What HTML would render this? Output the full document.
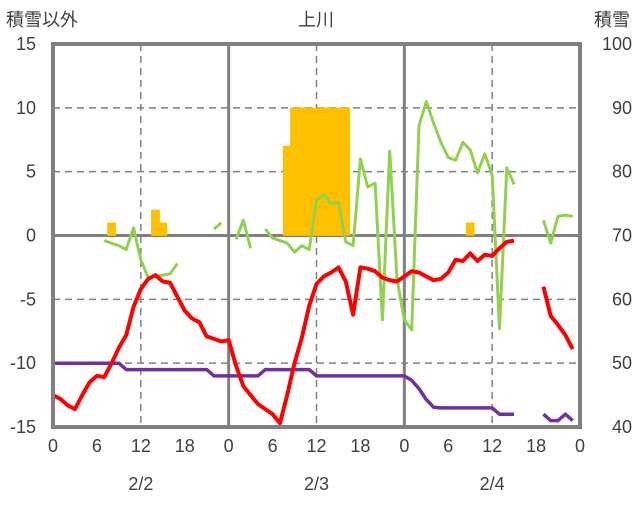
<!DOCTYPE html>
<html><head><meta charset="utf-8"><style>
html,body{margin:0;padding:0;background:#fff;}
svg text{font-family:"Liberation Sans","Noto Sans CJK JP",sans-serif;fill:#404040;font-size:18px;}
</style></head><body>
<svg id="chart" width="636" height="501" viewBox="0 0 636 501">
<g id="grid"></g>
<g id="bars"></g>
<g id="lines"></g>
<rect x="53" y="44" width="527" height="383" fill="none" stroke="#808080" stroke-width="4"/>
<g id="labels"></g>
<text x="316" y="26" text-anchor="middle">上川</text>
<text x="6" y="26">積雪以外</text>
<text x="630" y="26" text-anchor="end">積雪</text>
</svg>
<script>
const hourTicks=["0","6","12","18","0","6","12","18","0","6","12","18","0"];
const dateLabels=["2/2","2/3","2/4"];
const leftTicks=[15,10,5,0,-5,-10,-15];
const rightTicks=[100,90,80,70,60,50,40];
const N=null;
const temperature=[-12.5,-12.8,-13.3,-13.6,-12.5,-11.5,-11.0,-11.1,-10,-8.8,-7.8,-5.6,-4.2,-3.4,-3.1,-3.6,-3.7,-4.8,-5.9,-6.5,-6.8,-7.9,-8.1,-8.3,
-8.2,-10.2,-11.8,-12.5,-13.2,-13.6,-14.0,-14.7,-12.5,-10,-8,-5.5,-3.8,-3.2,-2.9,-2.5,-3.6,-6.2,-2.5,-2.6,-2.8,-3.3,-3.5,-3.6,
-3.2,-2.8,-2.9,-3.2,-3.5,-3.4,-2.9,-1.9,-2.0,-1.4,-2.0,-1.5,-1.6,-1.0,-0.5,-0.4,N,N,N,-4.0,-6.3,-7.0,-7.8,-8.9];
const wind=[N,N,N,N,N,N,N,-0.4,-0.6,-0.8,-1.1,0.6,-1.9,-3.3,-3.2,-3.1,-3.0,-2.2,N,N,N,N,0.5,1.0,
N,-0.3,1.2,-1.0,N,0.5,-0.2,-0.4,-0.6,-1.3,-0.8,-1.1,2.8,3.2,2.5,2.6,-0.5,-0.8,6.0,3.8,4.1,-6.6,6.6,-3.4,
-6.6,-7.4,8.6,10.5,8.8,7.3,6.1,5.9,7.3,6.7,4.9,6.4,4.7,-7.3,5.3,4.0,N,N,N,1.2,-0.6,1.5,1.6,1.5];
const snowDepth=[50,50,50,50,50,50,50,50,50,50,49,49,49,49,49,49,49,49,49,49,49,49,48,48,
48,48,48,48,48,49,49,49,49,49,49,49,48,48,48,48,48,48,48,48,48,48,48,48,
48,47.3,46,44.3,43.1,43,43,43,43,43,43,43,43,42,42,42,N,N,N,42,41,41,42,41];
const snowfall={8:1,14:2,15:1,32:7,33:10,34:10,35:10,36:10,37:10,38:10,39:10,40:10,57:1};

const L=53,R=580,T=44,B=427,NS="http://www.w3.org/2000/svg";
const xs=h=>L+(R-L)*h/72;
const yl=v=>T+(15-v)*(B-T)/30;
const yr=v=>T+(100-v)*(B-T)/60;
function mk(tag,attrs,parent){const e=document.createElementNS(NS,tag);for(const k in attrs)e.setAttribute(k,attrs[k]);parent.appendChild(e);return e;}
const grid=document.getElementById('grid'),bars=document.getElementById('bars'),lines=document.getElementById('lines'),labels=document.getElementById('labels');
leftTicks.forEach((v,i)=>{
  if(v!==15&&v!==-15){const g=mk('line',{x1:L,x2:R,y1:yl(v),y2:yl(v),stroke:'#808080','stroke-width':v===0?3:1.5,'stroke-dasharray':v===0?'none':'7,5'},grid);
  
  }
  const t=mk('text',{x:36,y:yl(v)+6,'text-anchor':'end'},labels);t.textContent=v;
  
  
});
rightTicks.forEach(v=>{
  const t=mk('text',{x:632,y:yr(v)+6,'text-anchor':'end'},labels);t.textContent=v;
  
  
});
hourTicks.forEach((s,i)=>{
  const h=i*6;
  if(h>0&&h<72&&h%12===0){const solid=h%24===0;
    const g=mk('line',{x1:xs(h),x2:xs(h),y1:T,y2:B,stroke:'#808080','stroke-width':solid?3:1.5,'stroke-dasharray':solid?'none':'7,5'},grid);
    
    }
  const t=mk('text',{x:xs(h),y:452,'text-anchor':'middle'},labels);t.textContent=s;
  
  
});
dateLabels.forEach((s,i)=>{
  const t=mk('text',{x:xs(12+24*i),y:490,'text-anchor':'middle'},labels);t.textContent=s;
  
  
});
const bw=(R-L)/72;
for(const h in snowfall){
  const v=snowfall[h];
  const r=mk('rect',{x:xs(+h)-bw/2-0.4,y:yl(v),width:bw+0.8,height:yl(0)-yl(v),fill:'#ffc000',stroke:'#ffc000','stroke-width':0.6},bars);
  
  
}
function series(arr,yf,color,w,name){
  let d='',pen=false;
  arr.forEach((v,h)=>{if(v===null){pen=false;return;}d+=(pen?'L':'M')+xs(h).toFixed(1)+','+yf(v).toFixed(1);pen=true;});
  const p=mk('path',{d:d,fill:'none',stroke:color,'stroke-width':w,'stroke-linejoin':'round'},lines);
  
  
}
series(wind,yl,'#92d050',3,'wind-line');
series(snowDepth,yr,'#7030a0',3.5,'snow-depth-line');
series(temperature,yl,'#ff0000',4,'temperature-line');
</script>
</body></html>
